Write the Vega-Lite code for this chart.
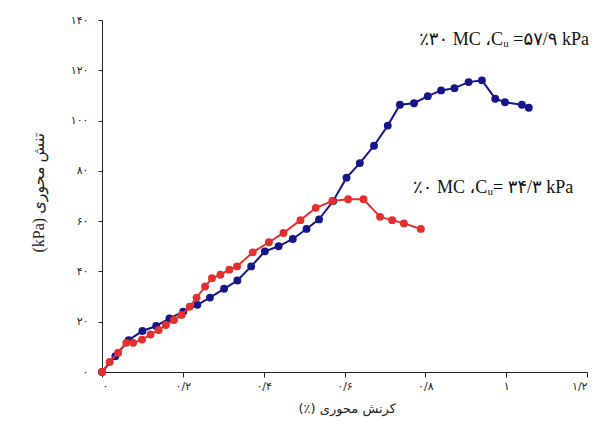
{
  "$schema": "https://vega.github.io/schema/vega-lite/v6.json",
  "width": 485,
  "height": 352,
  "autosize": "none",
  "padding": {"left": 102, "top": 20, "right": 7, "bottom": 53},
  "background": "white",
  "config": {"view": {"stroke": null}, "font": "Liberation Serif, DejaVu Sans"},
  "datasets": {
    "blue": [
      {"strain": 0, "stress": 0}, {"strain": 0.033, "stress": 6.3}, {"strain": 0.066, "stress": 12.7},
      {"strain": 0.1, "stress": 16.3}, {"strain": 0.134, "stress": 18.3}, {"strain": 0.167, "stress": 21.3},
      {"strain": 0.201, "stress": 24.0}, {"strain": 0.236, "stress": 26.7}, {"strain": 0.267, "stress": 29.6},
      {"strain": 0.302, "stress": 33.1}, {"strain": 0.335, "stress": 36.4}, {"strain": 0.369, "stress": 42.0},
      {"strain": 0.403, "stress": 48.0}, {"strain": 0.437, "stress": 50.0}, {"strain": 0.472, "stress": 52.9},
      {"strain": 0.506, "stress": 56.9}, {"strain": 0.537, "stress": 60.7}, {"strain": 0.572, "stress": 68.0},
      {"strain": 0.605, "stress": 77.3}, {"strain": 0.638, "stress": 83.1}, {"strain": 0.673, "stress": 90.0},
      {"strain": 0.707, "stress": 98.0}, {"strain": 0.737, "stress": 106.3}, {"strain": 0.772, "stress": 106.9},
      {"strain": 0.806, "stress": 109.7}, {"strain": 0.839, "stress": 112.0}, {"strain": 0.872, "stress": 112.9},
      {"strain": 0.907, "stress": 115.3}, {"strain": 0.94, "stress": 116.0}, {"strain": 0.973, "stress": 108.7},
      {"strain": 0.997, "stress": 107.3}, {"strain": 1.039, "stress": 106.3}, {"strain": 1.056, "stress": 105.1}
    ],
    "red": [
      {"strain": 0, "stress": 0}, {"strain": 0.019, "stress": 4.0}, {"strain": 0.04, "stress": 7.7},
      {"strain": 0.06, "stress": 11.6}, {"strain": 0.077, "stress": 11.6}, {"strain": 0.099, "stress": 12.9},
      {"strain": 0.12, "stress": 14.9}, {"strain": 0.14, "stress": 16.7}, {"strain": 0.158, "stress": 18.7},
      {"strain": 0.178, "stress": 20.7}, {"strain": 0.197, "stress": 22.7}, {"strain": 0.217, "stress": 26.0},
      {"strain": 0.234, "stress": 29.6}, {"strain": 0.255, "stress": 34.0}, {"strain": 0.272, "stress": 37.3},
      {"strain": 0.293, "stress": 38.7}, {"strain": 0.315, "stress": 40.7}, {"strain": 0.334, "stress": 42.0},
      {"strain": 0.373, "stress": 47.6}, {"strain": 0.413, "stress": 51.6}, {"strain": 0.449, "stress": 55.3},
      {"strain": 0.491, "stress": 60.4}, {"strain": 0.529, "stress": 65.3}, {"strain": 0.57, "stress": 68.0},
      {"strain": 0.609, "stress": 68.7}, {"strain": 0.647, "stress": 68.7}, {"strain": 0.688, "stress": 61.7},
      {"strain": 0.718, "stress": 60.4}, {"strain": 0.747, "stress": 59.1}, {"strain": 0.789, "stress": 56.9}
    ],
    "notes": [
      {"label": "٪۳۰ MC ،Cᵤ =۵۷/۹ kPa", "strain": 1.205, "stress": 132},
      {"label": "٪۰ MC ،Cᵤ= ۳۴/۳ kPa", "strain": 1.166, "stress": 73}
    ]
  },
  "encoding": {
    "x": {
      "field": "strain", "type": "quantitative",
      "scale": {"domain": [0, 1.2], "nice": false},
      "axis": {
        "values": [0, 0.2, 0.4, 0.6, 0.8, 1, 1.2],
        "labelExpr": "datum.value == 0 ? '۰' : datum.value == 0.2 ? '۰/۲' : datum.value == 0.4 ? '۰/۴' : datum.value == 0.6 ? '۰/۶' : datum.value == 0.8 ? '۰/۸' : datum.value == 1 ? '۱' : '۱/۲'",
        "title": "(٪) کرنش محوری",
        "grid": false, "domainColor": "#222", "tickColor": "#222", "tickSize": 5,
        "labelFont": "DejaVu Sans", "labelFontSize": 11, "labelColor": "#222", "labelPadding": 3,
        "titleFont": "DejaVu Sans", "titleFontSize": 13, "titleFontWeight": "normal", "titleColor": "#222", "titlePadding": 11,
        "titleAlign": "left", "titleX": 196
      }
    },
    "y": {
      "field": "stress", "type": "quantitative",
      "scale": {"domain": [0, 140], "nice": false},
      "axis": {
        "values": [0, 20, 40, 60, 80, 100, 120, 140],
        "labelExpr": "datum.value == 0 ? '۰' : datum.value == 20 ? '۲۰' : datum.value == 40 ? '۴۰' : datum.value == 60 ? '۶۰' : datum.value == 80 ? '۸۰' : datum.value == 100 ? '۱۰۰' : datum.value == 120 ? '۱۲۰' : '۱۴۰'",
        "title": "(kPa) تنش محوری",
        "grid": false, "domainColor": "#222", "tickColor": "#222", "tickSize": 4,
        "labelFont": "DejaVu Sans", "labelFontSize": 11, "labelColor": "#222", "labelPadding": 10,
        "titleFont": "Liberation Serif, DejaVu Sans", "titleFontSize": 16, "titleFontWeight": "normal", "titleColor": "#222", "titlePadding": 24,
        "titleAlign": "left", "titleY": 232
      }
    }
  },
  "layer": [
    {
      "data": {"name": "blue"},
      "mark": {"type": "line", "color": "#15168a", "strokeWidth": 2, "point": {"filled": true, "size": 62, "color": "#15168a"}}
    },
    {
      "data": {"name": "red"},
      "mark": {"type": "line", "color": "#e3302c", "strokeWidth": 2, "point": {"filled": true, "size": 62, "color": "#e3302c"}}
    },
    {
      "data": {"name": "notes"},
      "mark": {"type": "text", "align": "right", "baseline": "middle", "fontSize": 18, "color": "#111", "font": "Liberation Serif, DejaVu Sans"},
      "encoding": {
        "text": {"field": "label", "type": "nominal"}
      }
    }
  ]
}
